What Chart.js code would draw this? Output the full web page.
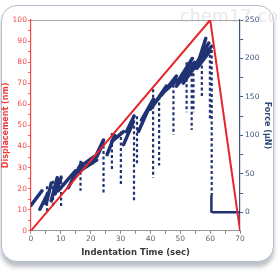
<!DOCTYPE html>
<html>
<head>
<meta charset="utf-8">
<script src="https://cdn.jsdelivr.net/npm/chart.js@4/dist/chart.umd.min.js"></script>
<style>
  html, body { margin: 0; padding: 0; background: #fff; width: 280px; height: 280px; overflow: hidden; }
  #frame { position: absolute; left: 1px; top: 5px; width: 271px; height: 255px; border: 1.5px solid #b3bfd0; border-radius: 16px; box-shadow: 0 5px 4px rgba(60,70,90,0.35); background: #fff; }
  #mark { position: absolute; left: 180px; top: 6px; font: 17px "DejaVu Sans", sans-serif; color: #e9e9e9; letter-spacing: 0.5px; }
  #wrap { position: absolute; left: 0; top: 0; width: 280px; height: 280px; }
</style>
</head>
<body>
<div id="frame"></div>
<div id="mark">chem17.com</div>
<div id="wrap"><canvas id="myChart" width="280" height="280"></canvas></div>
<script>
// axis ticks
var timeTicks = [0, 10, 20, 30, 40, 50, 60, 70];
var timeMinor = [5, 15, 25, 35, 45, 55, 65];
var dispTicks = [0, 10, 20, 30, 40, 50, 60, 70, 80, 90, 100];
var dispMinor = [5, 15, 25, 35, 45, 55, 65, 75, 85, 95];
var forceTicks = [0, 50, 100, 150, 200, 250];
var forceMinor = [25, 75, 125, 175, 225];

// displacement ramp (nm)
var rampTime = [0, 60, 70];
var rampDisp = [0, 100, 0];

// force rising bands (uN): start time, start force, end time, end force
var riseT0 = [0, 3.0, 5.1, 6.8, 8.1, 9.1, 12.5, 14.9, 16.0, 20.6, 22.0, 25.5, 27.0, 31.0, 32.0, 36.0, 37.0, 40.0, 42.0, 43.6, 45.0, 48.7, 49.5, 51.0, 54.8, 55.5, 56.0, 57.0];
var riseF0 = [9, 4, 11, 15, 24, 28, 32, 50, 58, 64, 72, 75, 92, 88, 105, 105, 120, 134, 145, 152, 158, 164, 172, 168, 190, 187, 195, 200];
var riseT1 = [3.7, 5.7, 6.8, 8.8, 10.1, 14.9, 16.9, 22.0, 21.0, 24.3, 24.0, 28.0, 31.0, 34.0, 34.5, 40.0, 41.0, 45.0, 45.3, 48.7, 49.0, 54.8, 54.0, 55.0, 59.5, 60.0, 58.5, 60.3];
var riseF1 = [28, 25, 38, 45, 45, 54, 64, 68, 72, 94, 88, 100, 105, 115, 125, 140, 147, 160, 164, 177, 172, 195, 200, 190, 220, 210, 226, 215];

// force drops after each pop-in
var dropT = [5.4, 7.4, 10.1, 16.6, 24.3, 27.1, 30.1, 34.5, 35.5, 40.9, 42.9, 47.7, 52.1, 53.8, 54.4, 57.2, 59.9, 60.5];
var dropTop = [34, 41, 48, 67, 94, 103, 105, 127, 125, 160, 150, 173, 195, 195, 195, 205, 212, 218];
var dropBottom = [1, 8, 8, 28, 24, 54, 34, 15, 61, 45, 61, 101, 130, 107, 130, 150, 120, 20];

// unloading foot
var unloadT = [60.4, 60.4, 61.0, 70];
var unloadF = [22, 1, 0, 0];

function generateGraph() {
  var ramp = [];
  for (var i = 0; i < rampTime.length; i++) {
    ramp.push({x: rampTime[i], y: rampDisp[i]});
  }
  var rise = [];
  for (var i = 0; i < riseT0.length; i++) {
    rise.push({x: riseT0[i], y: riseF0[i]});
    rise.push({x: riseT1[i], y: riseF1[i]});
    rise.push({x: riseT1[i], y: null});
  }
  var drops = [];
  for (var i = 0; i < dropT.length; i++) {
    drops.push({x: dropT[i], y: dropTop[i]});
    drops.push({x: dropT[i], y: dropBottom[i]});
    drops.push({x: dropT[i], y: null});
  }
  var unload = [];
  for (var i = 0; i < unloadT.length; i++) {
    unload.push({x: unloadT[i], y: unloadF[i]});
  }

  var blue = '#1f3274';
  var tickFont = {family: 'DejaVu Sans', size: 7.5};

  var myChart = new Chart(document.getElementById('myChart').getContext('2d'), {
    type: 'scatter',
    data: {
      datasets: [
        {data: ramp, yAxisID: 'y', showLine: true, borderColor: '#e8252b', borderWidth: 2, pointRadius: 0, order: 0},
        {data: rise, yAxisID: 'y2', showLine: true, spanGaps: false, borderColor: blue, borderWidth: 3.5, borderCapStyle: 'round', pointRadius: 0, order: 2},
        {data: drops, yAxisID: 'y2', showLine: true, spanGaps: false, borderColor: blue, borderWidth: 2.2, borderDash: [3, 2.5], pointRadius: 0, order: 3},
        {data: unload, yAxisID: 'y2', showLine: true, borderColor: blue, borderWidth: 2.5, pointRadius: 0, order: 1}
      ]
    },
    options: {
      responsive: false,
      animation: false,
      layout: {padding: {top: 20, left: 1, right: 8, bottom: 22}},
      plugins: {legend: {display: false}, tooltip: {enabled: false}},
      scales: {
        x: {
          type: 'linear', position: 'bottom', min: 0, max: 70,
          afterBuildTicks: function(s) { s.ticks = timeTicks.concat(timeMinor).map(function(v) { return {value: v}; }); },
          ticks: {autoSkip: false, maxRotation: 0, color: '#666', font: tickFont, padding: 1,
            callback: function(v) { return timeTicks.indexOf(v) >= 0 ? v : ''; }},
          grid: {drawOnChartArea: false, tickLength: 3, color: '#888'},
          border: {color: '#999', width: 1},
          title: {display: true, text: 'Indentation Time (sec)', color: '#3a3a3a', font: {family: 'DejaVu Sans', size: 8.5, weight: 'bold'}, padding: {top: 3, bottom: 0}}
        },
        xTop: {
          type: 'linear', position: 'top', min: 0, max: 70,
          ticks: {display: false},
          grid: {display: false, drawTicks: false},
          border: {color: '#aaa', width: 1}
        },
        y: {
          type: 'linear', position: 'left', min: 0, max: 100,
          afterBuildTicks: function(s) { s.ticks = dispTicks.concat(dispMinor).map(function(v) { return {value: v}; }); },
          ticks: {autoSkip: false, color: '#ef4a4a', font: tickFont, padding: 1,
            callback: function(v) { return dispTicks.indexOf(v) >= 0 ? v : ''; }},
          grid: {drawOnChartArea: false, tickLength: 3, color: '#ef6a6a'},
          border: {color: '#ef4a4a', width: 1.2},
          title: {display: true, text: 'Displacement (nm)', color: '#ef3b3b', font: {family: 'DejaVu Sans', size: 8, weight: 'bold'}, padding: {top: 0, bottom: 1}}
        },
        y2: {
          type: 'linear', position: 'right', min: -24, max: 250,
          afterBuildTicks: function(s) { s.ticks = forceTicks.concat(forceMinor).map(function(v) { return {value: v}; }); },
          ticks: {autoSkip: false, color: '#3d5680', font: tickFont, padding: 2,
            callback: function(v) { return forceTicks.indexOf(v) >= 0 ? v : ''; }},
          grid: {drawOnChartArea: false, tickLength: 3, color: '#3d5680'},
          border: {color: '#3d5680', width: 1.2},
          title: {display: true, text: 'Force (\u03bcN)', color: '#2f4a78', font: {family: 'DejaVu Sans', size: 8, weight: 'bold'}, padding: {top: 0, bottom: 1}}
        }
      }
    }
  });
}
generateGraph();
</script>
</body>
</html>
